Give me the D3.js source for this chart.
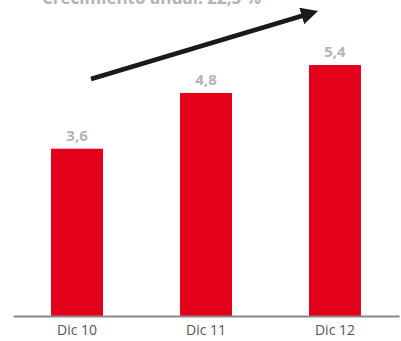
<!DOCTYPE html>
<html>
<head>
<meta charset="utf-8">
<script src="https://cdn.jsdelivr.net/npm/d3@7"></script>
<style>
  body { margin: 0; background: #fff; }
  svg { display: block; font-family: "Open Sans", sans-serif; }
</style>
</head>
<body>
<script>
// data
var periods = ["Dic 10", "Dic 11", "Dic 12"];
var values = [3.6, 4.8, 5.4];
var valueLabels = ["3,6", "4,8", "5,4"];
var title = "Crecimiento anual: 22,5 %";

var width = 401, height = 341;
var baseY = 316;

var svg = d3.select("body").append("svg")
    .attr("width", width)
    .attr("height", height);

// scales
var x = d3.scaleBand()
    .domain(periods)
    .range([13, 399])
    .paddingInner(0.597)
    .paddingOuter(0.295);

var y = d3.scaleLinear()
    .domain([0, 6.8])
    .range([baseY, 0]);

// bars
svg.selectAll(".bar")
    .data(values)
    .enter().append("rect")
    .attr("class", "bar")
    .attr("x", function(d, i) { return x(periods[i]); })
    .attr("y", function(d) { return y(d); })
    .attr("width", x.bandwidth())
    .attr("height", function(d) { return baseY - y(d); })
    .attr("fill", "#e2001a");

// value labels
svg.selectAll(".val")
    .data(values)
    .enter().append("text")
    .attr("class", "val")
    .attr("x", function(d, i) { return x(periods[i]) + x.bandwidth() / 2; })
    .attr("y", function(d) { return y(d) - 8; })
    .attr("text-anchor", "middle")
    .attr("font-size", 15)
    .attr("font-weight", "bold")
    .attr("fill", "#b4b4b4")
    .text(function(d, i) { return valueLabels[i]; });

// x axis
var xAxis = svg.append("g")
    .attr("transform", "translate(0," + baseY + ")")
    .call(d3.axisBottom(x).tickSize(0).tickSizeOuter(0));

xAxis.select(".domain")
    .attr("stroke", "#888")
    .attr("stroke-width", 2);

xAxis.selectAll("text")
    .attr("y", 19)
    .attr("dy", 0)
    .attr("font-family", "Open Sans, sans-serif")
    .attr("font-size", 14)
    .attr("fill", "#555");

// title (cut off at the top, as in the source)
svg.append("text")
    .attr("x", 42)
    .attr("y", 4)
    .attr("font-size", 17)
    .attr("font-weight", "bold")
    .attr("fill", "#b4b4b4")
    .text(title);

// growth arrow
svg.append("defs").append("marker")
    .attr("id", "head")
    .attr("viewBox", "0 0 10 10")
    .attr("refX", 2)
    .attr("refY", 5)
    .attr("markerWidth", 3.8)
    .attr("markerHeight", 3.8)
    .attr("markerUnits", "strokeWidth")
    .attr("orient", "auto")
  .append("path")
    .attr("d", "M0,0L10,5L0,10Z")
    .attr("fill", "#1a1a1a");

svg.append("line")
    .attr("x1", 91)
    .attr("y1", 79)
    .attr("x2", 305)
    .attr("y2", 15)
    .attr("stroke", "#1a1a1a")
    .attr("stroke-width", 4.5)
    .attr("marker-end", "url(#head)");
</script>
</body>
</html>
